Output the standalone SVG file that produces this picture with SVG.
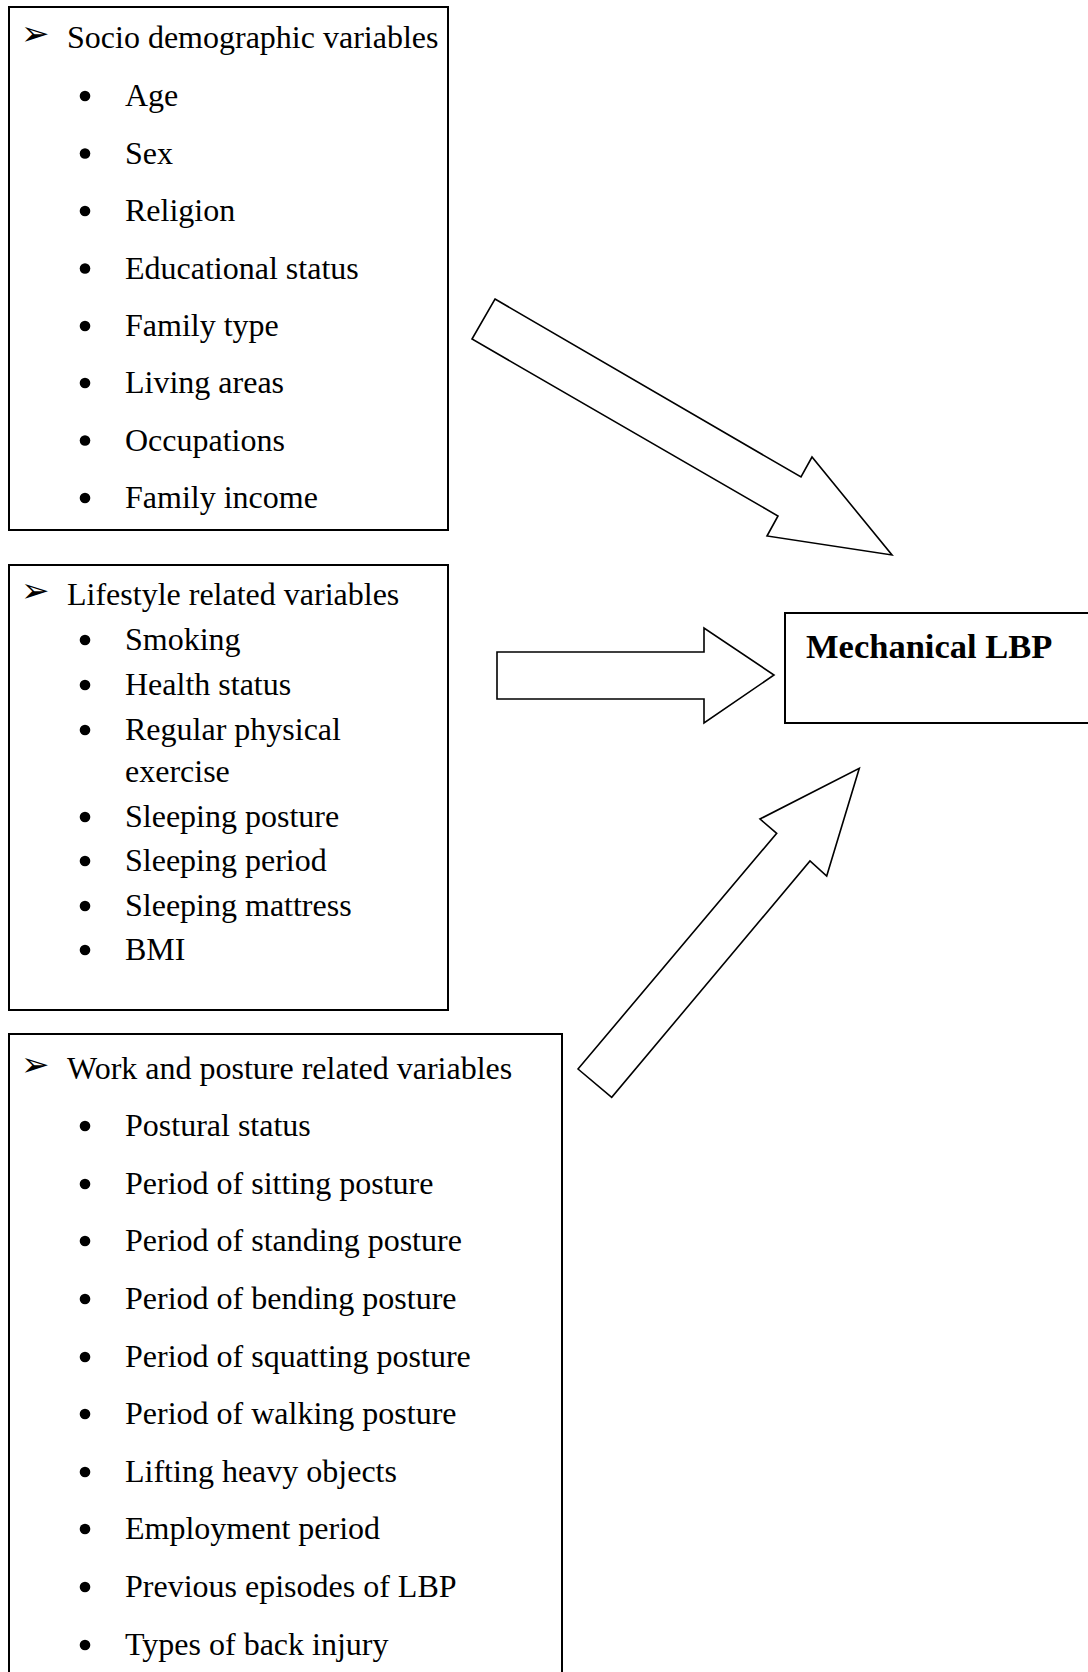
<svg xmlns="http://www.w3.org/2000/svg" width="1088" height="1672" viewBox="0 0 1088 1672">
<style>
.box{fill:#fff;stroke:#000;stroke-width:2}
.arr{fill:#fff;stroke:#000;stroke-width:1.6;stroke-linejoin:miter}
.t{font-family:"Liberation Serif","Times New Roman",serif;font-size:32px;fill:#000}
.h{font-family:"DejaVu Sans",sans-serif;font-size:34px;fill:#000}
.tb{font-family:"Liberation Serif","Times New Roman",serif;font-size:34.5px;font-weight:bold;fill:#000}
</style>
<defs><circle id="dot" r="5.3" fill="#000"/></defs>
<rect width="1088" height="1672" fill="#fff"/>
<g id="socio">
<rect class="box" x="9" y="7" width="439" height="523"/>
<text class="h" x="21" y="45">➢</text>
<text class="t" x="67" y="48">Socio demographic variables</text>
<use href="#dot" x="85" y="96"/><text class="t" x="125" y="106">Age</text>
<use href="#dot" x="85" y="153.5"/><text class="t" x="125" y="163.5">Sex</text>
<use href="#dot" x="85" y="211"/><text class="t" x="125" y="221">Religion</text>
<use href="#dot" x="85" y="268.5"/><text class="t" x="125" y="278.5">Educational status</text>
<use href="#dot" x="85" y="326"/><text class="t" x="125" y="336">Family type</text>
<use href="#dot" x="85" y="383"/><text class="t" x="125" y="393">Living areas</text>
<use href="#dot" x="85" y="440.5"/><text class="t" x="125" y="450.5">Occupations</text>
<use href="#dot" x="85" y="498"/><text class="t" x="125" y="508">Family income</text>
</g>
<g id="lifestyle">
<rect class="box" x="9" y="565" width="439" height="445"/>
<text class="h" x="21" y="602">➢</text>
<text class="t" x="67" y="605">Lifestyle related variables</text>
<use href="#dot" x="85" y="640"/><text class="t" x="125" y="650">Smoking</text>
<use href="#dot" x="85" y="685"/><text class="t" x="125" y="695">Health status</text>
<use href="#dot" x="85" y="730"/><text class="t" x="125" y="740">Regular physical</text>
<text class="t" x="125" y="782">exercise</text>
<use href="#dot" x="85" y="817"/><text class="t" x="125" y="827">Sleeping posture</text>
<use href="#dot" x="85" y="861"/><text class="t" x="125" y="871">Sleeping period</text>
<use href="#dot" x="85" y="906"/><text class="t" x="125" y="916">Sleeping mattress</text>
<use href="#dot" x="85" y="950"/><text class="t" x="125" y="960">BMI</text>
</g>
<g id="work">
<rect class="box" x="9" y="1034" width="553" height="660"/>
<text class="h" x="21" y="1075.5">➢</text>
<text class="t" x="67" y="1078.5">Work and posture related variables</text>
<use href="#dot" x="85" y="1126"/><text class="t" x="125" y="1136">Postural status</text>
<use href="#dot" x="85" y="1184"/><text class="t" x="125" y="1194">Period of sitting posture</text>
<use href="#dot" x="85" y="1241"/><text class="t" x="125" y="1251">Period of standing posture</text>
<use href="#dot" x="85" y="1299"/><text class="t" x="125" y="1309">Period of bending posture</text>
<use href="#dot" x="85" y="1357"/><text class="t" x="125" y="1367">Period of squatting posture</text>
<use href="#dot" x="85" y="1414"/><text class="t" x="125" y="1424">Period of walking posture</text>
<use href="#dot" x="85" y="1472"/><text class="t" x="125" y="1482">Lifting heavy objects</text>
<use href="#dot" x="85" y="1529"/><text class="t" x="125" y="1539">Employment period</text>
<use href="#dot" x="85" y="1587"/><text class="t" x="125" y="1597">Previous episodes of LBP</text>
<use href="#dot" x="85" y="1645"/><text class="t" x="125" y="1655">Types of back injury</text>
</g>
<g id="lbp">
<rect class="box" x="785" y="613" width="320" height="110"/>
<text class="tb" x="806" y="658">Mechanical LBP</text>
</g>
<g id="connectors">
<polygon class="arr" points="495,299 801,477 812,457 892,555 767,536 778,516 472,339"/>
<polygon class="arr" points="497,652 704,652 704,628 774,675 704,723 704,699 497,699"/>
<polygon class="arr" points="578,1069 776.7,833.3 760,819 859.3,768.3 826.7,876 810,861 611.7,1097.3"/>
</g>
</svg>
